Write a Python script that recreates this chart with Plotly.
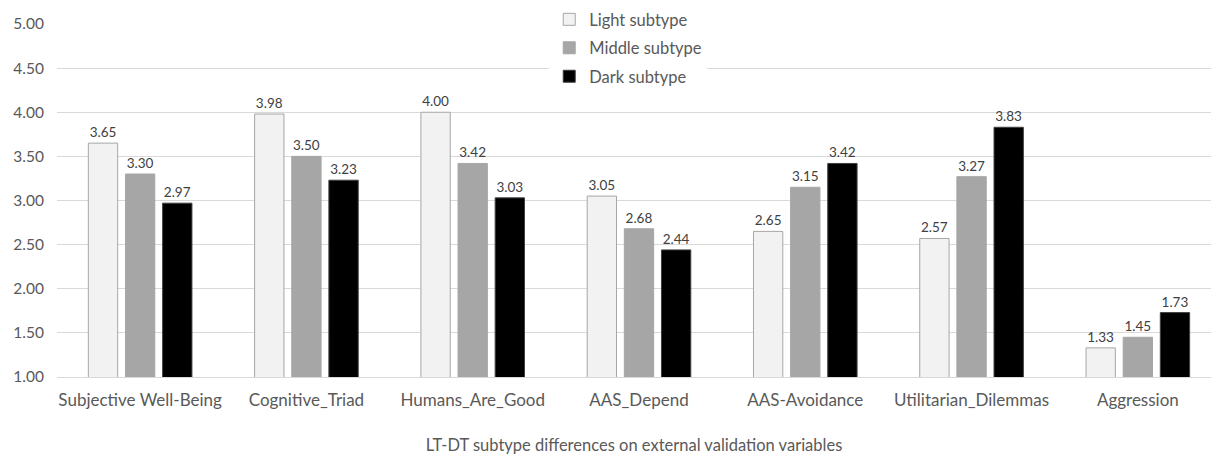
import plotly.graph_objects as go

categories = ["Subjective Well-Being", "Cognitive_Triad", "Humans_Are_Good", "AAS_Depend",
              "AAS-Avoidance", "Utilitarian_Dilemmas", "Aggression"]
light = [3.65, 3.98, 4.00, 3.05, 2.65, 2.57, 1.33]
middle = [3.30, 3.50, 3.42, 2.68, 3.15, 3.27, 1.45]
dark = [2.97, 3.23, 3.03, 2.44, 3.42, 3.83, 1.73]
series_names = ["Light subtype", "Middle subtype", "Dark subtype"]
y_ticks = [1.0, 1.5, 2.0, 2.5, 3.0, 3.5, 4.0, 4.5, 5.0]

FONT = "Lato, Open Sans, sans-serif"
fills = ["#f2f2f2", "#a6a6a6", "#000000"]
outlines = ["#a6a6a6", "#a6a6a6", "#404040"]

fig = go.Figure()
for i, (name, vals) in enumerate(zip(series_names, [light, middle, dark])):
    fig.add_trace(go.Bar(
        x=categories, y=vals, name=name, legendgroup=name,
        marker=dict(color=fills[i], line=dict(color=outlines[i], width=1)),
        text=[f"{v:.2f}" for v in vals], textposition="outside",
        textfont=dict(family=FONT, size=13.5, color="#404040"),
        cliponaxis=False,
    ))

fig.update_layout(
    width=1211, height=455,
    margin=dict(l=57, r=0, t=24, b=78),
    paper_bgcolor="white", plot_bgcolor="white",
    barmode="group", bargap=0.33, bargroupgap=0.21,
    font=dict(family=FONT, size=14, color="#595959"),
    legend=dict(x=0.495, xanchor="center", y=1.062, yanchor="top",
                bgcolor="white", font=dict(size=16.5, color="#595959"),
                tracegroupgap=4, itemwidth=30),
    xaxis=dict(range=[-0.5, 6.44], showgrid=False, showline=True,
               linecolor="#d9d9d9", linewidth=1, ticks="", ticklabelstandoff=8,
               tickfont=dict(size=17, color="#595959"),
               title=dict(text="LT-DT subtype differences on external validation variables",
                          font=dict(size=16.5, color="#595959"), standoff=30)),
    yaxis=dict(range=[1, 5], tickvals=y_ticks, ticktext=[f"{v:.2f}" for v in y_ticks],
               showgrid=True, gridcolor="#d9d9d9", gridwidth=1, zeroline=False,
               ticks="", ticklabelstandoff=12, tickfont=dict(size=15.5, color="#595959")),
)

fig.write_html("out.html")
